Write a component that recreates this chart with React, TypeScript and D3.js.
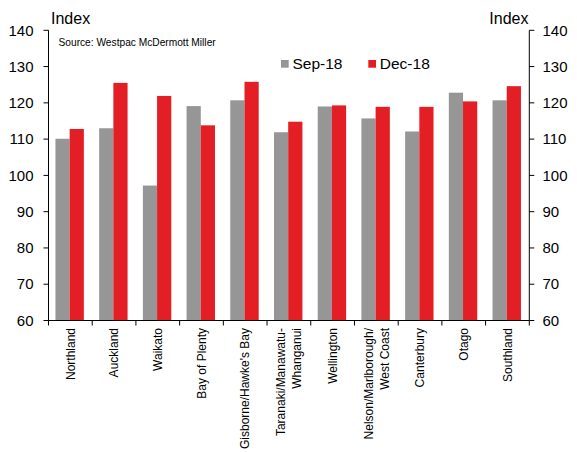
import React from "react";
import * as d3 from "d3";

const categories: string[][] = [
  ["Northland"],
  ["Auckland"],
  ["Waikato"],
  ["Bay of Plenty"],
  ["Gisborne/Hawke's Bay"],
  ["Taranaki/Manawatu-", "Whanganui"],
  ["Wellington"],
  ["Nelson/Marlborough/", "West Coast"],
  ["Canterbury"],
  ["Otago"],
  ["Southland"],
];
const sep18 = [110.1, 113.0, 97.2, 119.1, 120.7, 111.9, 119.0, 115.7, 112.1, 122.8, 120.7];
const dec18 = [112.8, 125.5, 121.9, 113.8, 125.8, 114.8, 119.3, 118.9, 118.9, 120.4, 124.6];
const seriesNames = ["Sep-18", "Dec-18"];
const seriesColors = ["#969696", "#E31E24"];
const yTicks = [60, 70, 80, 90, 100, 110, 120, 130, 140];

export default function App() {
  const W = 577, H = 452;
  const left = 48.5, right = 529.3, top = 30.3, bottom = 320.5;
  const font = "Arial, 'Liberation Sans', sans-serif";
  const ids = categories.map((_, i) => String(i));
  const x = d3.scaleBand<string>().domain(ids).range([left, right]).paddingInner(0.35).paddingOuter(0.175);
  const xs = d3.scaleBand<string>().domain(["0", "1"]).range([0, x.bandwidth()]);
  const y = d3.scaleLinear().domain([60, 140]).range([bottom, top]);
  const step = x.step();
  const series = [sep18, dec18];
  const axisColor = "#000";

  return (
    <svg width={W} height={H} style={{ position: "absolute", left: 0, top: 0 }} fontFamily={font}>
      <rect width={W} height={H} fill="#fff" />
      {series.map((vals, s) =>
        vals.map((v, i) => (
          <rect
            key={`${s}-${i}`}
            x={(x(String(i)) as number) + (xs(String(s)) as number) - 0.7}
            y={y(v)}
            width={xs.bandwidth()}
            height={y(60) - y(v)}
            fill={seriesColors[s]}
          />
        ))
      )}
      {/* axes */}
      <line x1={left} x2={left} y1={top} y2={bottom} stroke={axisColor} strokeWidth={1} />
      <line x1={right} x2={right} y1={top} y2={bottom} stroke={axisColor} strokeWidth={1} />
      <line x1={left} x2={right} y1={bottom} y2={bottom} stroke={axisColor} strokeWidth={1} />
      {yTicks.map((t) => (
        <g key={t}>
          <line x1={left - 5} x2={left} y1={y(t)} y2={y(t)} stroke={axisColor} />
          <line x1={right} x2={right + 5} y1={y(t)} y2={y(t)} stroke={axisColor} />
          <text x={33.5} y={y(t)} dy="0.35em" textAnchor="end" fontSize={15} fill="#000">{t}</text>
          <text x={542.5} y={y(t)} dy="0.35em" textAnchor="start" fontSize={15} fill="#000">{t}</text>
        </g>
      ))}
      {d3.range(categories.length + 1).map((i) => (
        <line key={i} x1={left + i * step} x2={left + i * step} y1={bottom} y2={bottom + 5} stroke={axisColor} />
      ))}
      {categories.map((lines, i) => {
        const cx = (x(String(i)) as number) + x.bandwidth() / 2;
        const n = lines.length;
        return (
          <g key={i} transform={`translate(${cx},328) rotate(-90)`}>
            {lines.map((l, j) => (
              <text key={j} x={0} y={(j - (n - 1) / 2) * 16} dy="0.35em" textAnchor="end" fontSize={12} fill="#000">{l}</text>
            ))}
          </g>
        );
      })}
      <text x={51} y={24} fontSize={16} fill="#000">Index</text>
      <text x={528.5} y={24} fontSize={16} textAnchor="end" fill="#000">Index</text>
      <text x={58.5} y={46} fontSize={10.2} fill="#000">Source: Westpac McDermott Miller</text>
      {seriesNames.map((name, s) => {
        const lx = s === 0 ? 281 : 368.3;
        return (
          <g key={name}>
            <rect x={lx} y={60} width={7.7} height={7.7} fill={seriesColors[s]} />
            <text x={lx + 11.5} y={64} dy="0.35em" fontSize={15.5} fill="#000">{name}</text>
          </g>
        );
      })}
    </svg>
  );
}
